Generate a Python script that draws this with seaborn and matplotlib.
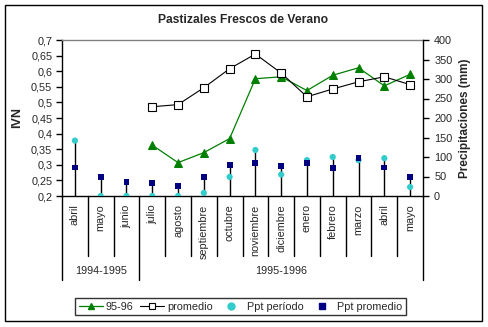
import numpy as np
import matplotlib
matplotlib.use("Agg")
import matplotlib.pyplot as plt
from matplotlib.lines import Line2D
from matplotlib.patches import Rectangle
import seaborn as sns

meses = ['abril', 'mayo', 'junio', 'julio', 'agosto', 'septiembre', 'octubre',
         'noviembre', 'diciembre', 'enero', 'febrero', 'marzo', 'abril', 'mayo']
grupos = ['1994-1995', '1995-1996']
grupo_tam = [3, 11]
nan = np.nan
ivn_9596 = [nan, nan, nan, 0.363, 0.307, 0.339, 0.384, 0.576, 0.582, 0.538, 0.587, 0.611, 0.553, 0.590]
ivn_prom = [nan, nan, nan, 0.486, 0.493, 0.547, 0.608, 0.655, 0.594, 0.518, 0.543, 0.566, 0.582, 0.557]
ppt_periodo = [142, 0, 0, 0, 0, 8, 49, 118, 55, 92, 100, 92, 97, 23]
ppt_prom = [73, 49, 36, 33, 26, 49, 79, 85, 78, 85, 72, 97, 73, 49]
yticks_l = [0.2, 0.25, 0.3, 0.35, 0.4, 0.45, 0.5, 0.55, 0.6, 0.65, 0.7]
yticks_r = [0, 50, 100, 150, 200, 250, 300, 350, 400]

sns.set_theme(style="white")
plt.rcParams['font.family'] = ['Liberation Sans', 'DejaVu Sans']

W, H = 488, 327
fig = plt.figure(figsize=(W / 100, H / 100), dpi=100)
L, R, T, B = 62, 423, 40, 196
ax = fig.add_axes([L / W, 1 - B / H, (R - L) / W, (B - T) / H])
ax2 = ax.twinx()

x = np.arange(len(meses))
green = '#008000'
cyan = '#33CCCC'
navy = '#000080'

sns.lineplot(x=x, y=ivn_9596, ax=ax, color=green, lw=0.9, marker='^', markersize=5.5,
             markeredgecolor=green, markerfacecolor=green)
sns.lineplot(x=x, y=ivn_prom, ax=ax, color='black', lw=0.8, marker='s', markersize=5.5,
             markeredgecolor='black', markerfacecolor='white', markeredgewidth=0.8)

top = np.maximum(ppt_periodo, ppt_prom)
ax2.vlines(x, 0, top, color='black', lw=1, zorder=1)
sns.scatterplot(x=x, y=ppt_periodo, ax=ax2, color=cyan, marker='o', s=20, edgecolor='none', zorder=3)
sns.scatterplot(x=x, y=ppt_prom, ax=ax2, color=navy, marker='s', s=18, edgecolor='none', zorder=4)

ax.set_xlim(-0.5, len(meses) - 0.5)
ax.set_ylim(0.2, 0.7)
ax2.set_ylim(0, 400)

ax.set_yticks(yticks_l)
ax.set_yticklabels([('%g' % v).replace('.', ',') for v in yticks_l], fontsize=7.8)
ax2.set_yticks(yticks_r)
ax2.set_yticklabels([str(v) for v in yticks_r], fontsize=7.8)
ax.tick_params(axis='y', left=True, length=4, width=1, color='black', pad=3, direction='out')
ax2.tick_params(axis='y', right=True, length=4, width=1, color='black', pad=4, direction='out')

ax.set_xticks(x)
ax.set_xticklabels(meses, rotation=90, fontsize=7.8)
ax.tick_params(axis='x', length=0, pad=6)

for a in (ax, ax2):
    a.grid(False)
    a.set_facecolor('none')
for s in ('left', 'bottom'):
    ax.spines[s].set_color('black'); ax.spines[s].set_linewidth(1)
ax.spines['right'].set_visible(False)
ax.spines['top'].set_color('#808080'); ax.spines['top'].set_linewidth(1)
ax2.spines['right'].set_color('black'); ax2.spines['right'].set_linewidth(1)
for s in ('left', 'top', 'bottom'):
    ax2.spines[s].set_visible(False)

ax.set_ylabel('IVN', fontsize=9, fontweight='bold', labelpad=6)
ax2.set_ylabel('Precipitaciones (mm)', fontsize=8.5, fontweight='bold', labelpad=5)
ax.set_xlabel('')
fig.text(243 / W, 1 - 20 / H, 'Pastizales Frescos de Verano',
         ha='center', va='center', fontsize=8.7, fontweight='bold')

# multi-level category separators
trans = ax.get_xaxis_transform()
y_month = -(256 - B) / (B - T)
y_group = -(280 - B) / (B - T)
bounds = np.cumsum([0] + grupo_tam) - 0.5
for b in np.arange(len(meses) + 1) - 0.5:
    yb = y_group if b in bounds else y_month
    ax.add_line(Line2D([b, b], [0, yb], transform=trans, color='black', lw=1, clip_on=False))
start = 0
for g, n in zip(grupos, grupo_tam):
    ax.text(start + (n - 1) / 2, -(271 - B) / (B - T), g, transform=trans,
            ha='center', va='center', fontsize=7.8)
    start += n

handles = [
    Line2D([], [], color=green, lw=0.9, marker='^', markersize=5, markerfacecolor=green),
    Line2D([], [], color='black', lw=0.8, marker='s', markersize=5, markerfacecolor='white', markeredgewidth=0.8),
    Line2D([], [], ls='none', marker='o', markersize=5, color=cyan),
    Line2D([], [], ls='none', marker='s', markersize=4.5, color=navy),
]
leg = fig.legend(handles, ['95-96', 'promedio', 'Ppt período', 'Ppt promedio'],
                 loc='center', bbox_to_anchor=(240.5 / W, 1 - 306.5 / H), ncol=4,
                 fontsize=7.8, frameon=True, fancybox=False, handlelength=2.2,
                 handletextpad=0.3, columnspacing=0.6, borderpad=0.35)
leg.get_frame().set_edgecolor('black')
leg.get_frame().set_linewidth(1)

fig.patches.append(Rectangle((5 / W, 1 - 321 / H), 477 / W, 316 / H, transform=fig.transFigure,
                             fill=False, edgecolor='black', lw=1))

fig.savefig('out.png', dpi=100)
